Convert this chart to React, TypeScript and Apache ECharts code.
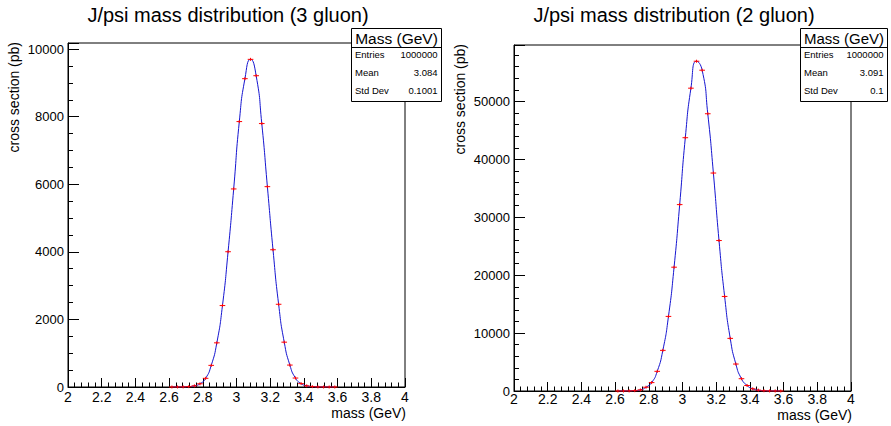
import React, { useEffect, useRef } from "react";
import * as echarts from "echarts";

// ---- data ----
const binCenters = [
  2.6167, 2.65, 2.6833, 2.7167, 2.75, 2.7833, 2.8167, 2.85, 2.8833, 2.9167,
  2.95, 2.9833, 3.0167, 3.05, 3.0833, 3.1167, 3.15, 3.1833, 3.2167, 3.25,
  3.2833, 3.3167, 3.35, 3.3833, 3.4167, 3.45, 3.4833, 3.5167, 3.55, 3.5833,
];
const binWidth = 1 / 30;

const gluon3Values = [
  0.1, 0.8, 3, 11, 34, 95, 257, 640, 1307, 2410,
  4003, 5861, 7855, 9124, 9696, 9212, 7796, 5929, 4062, 2448,
  1327, 649, 265, 100, 35, 11, 3, 0.8, 0.2, 0.05,
];
const gluon2Values = [
  0.7, 3, 14, 55, 190, 650, 1450, 3397, 7017, 12879,
  21379, 32190, 43741, 52293, 56948, 55397, 47879, 37638, 25983, 16328,
  9086, 4655, 2121, 950, 380, 150, 45, 12, 3, 0.6,
];

const titles = ["J/psi mass distribution (3 gluon)", "J/psi mass distribution (2 gluon)"];
const xAxisName = "mass (GeV)";
const yAxisName = "cross section (pb)";
const statsHeader = "Mass (GeV)";
const statLabels = ["Entries", "Mean", "Std Dev"];
const stats3 = ["1000000", "3.084", "0.1001"];
const stats2 = ["1000000", "3.091", "0.1"];

const xMin = 2;
const xMax = 4;
const xStep = 0.2;
const leftYMajor = [0, 2000, 4000, 6000, 8000, 10000];
const leftYMajorStep = 2000;
const leftYMinorStep = 500;
const leftYMax = 10180;
const rightYMajor = [0, 10000, 20000, 30000, 40000, 50000];
const rightYMajorStep = 10000;
const rightYMinorStep = 2000;
const rightYMax = 59750;

const FONT = '"Liberation Sans", Arial, Helvetica, sans-serif';

function pts(vals: number[]) {
  return binCenters.map((c, i) => [c, vals[i]]);
}

function xAxisCfg(gridIndex: number, margin: number) {
  return {
    type: "value",
    gridIndex,
    min: xMin,
    max: xMax,
    interval: xStep,
    axisLine: { show: true, lineStyle: { color: "#000", width: 1 } },
    axisTick: { show: true, inside: true, length: 9, lineStyle: { color: "#000", width: 1 } },
    minorTick: { show: true, splitNumber: 5, length: 4.5, lineStyle: { color: "#000", width: 1 } },
    splitLine: { show: false },
    axisLabel: {
      color: "#000",
      fontSize: 14,
      lineHeight: 12,
      fontFamily: FONT,
      margin,
      formatter: (v: number) => String(parseFloat(v.toFixed(1))),
    },
  };
}

function yAxesCfg(gridIndex: number, max: number, majors: number[], majorStep: number, minorStep: number) {
  return [
    {
      type: "value",
      gridIndex,
      position: "left",
      min: 0,
      max,
      interval: majorStep,
      z: 5,
      axisLine: { show: true, lineStyle: { color: "#000", width: 1 } },
      axisTick: { show: true, inside: true, length: 11, lineStyle: { color: "#000", width: 1 } },
      splitLine: { show: false },
      axisLabel: {
        color: "#000",
        fontSize: 13,
        fontFamily: FONT,
        margin: 4,
        formatter: (v: number) => (majors.includes(Math.round(v)) && Math.abs(v - Math.round(v)) < 1e-6 ? String(Math.round(v)) : ""),
      },
    },
    {
      type: "value",
      gridIndex,
      position: "left",
      offset: 0,
      min: 0,
      max,
      interval: minorStep,
      z: 4,
      axisLine: { show: false },
      axisTick: { show: true, inside: true, length: 5, lineStyle: { color: "#000", width: 1 } },
      splitLine: { show: false },
      axisLabel: { show: false },
    },
  ];
}

function errSeries(xAxisIndex: number, yAxisIndex: number, vals: number[]) {
  return {
    type: "custom",
    xAxisIndex,
    yAxisIndex,
    data: pts(vals),
    encode: { x: 0, y: 1 },
    z: 3,
    renderItem: (_params: any, api: any) => {
      const x = api.value(0);
      const y = api.value(1);
      const c = api.coord([x, y]);
      const l = api.coord([x - binWidth / 2, y]);
      const r = api.coord([x + binWidth / 2, y]);
      return {
        type: "group",
        children: [
          {
            type: "line",
            shape: { x1: l[0], y1: c[1], x2: r[0], y2: c[1] },
            style: { stroke: "#ff0000", lineWidth: 1 },
          },
          {
            type: "line",
            shape: { x1: c[0], y1: c[1] - 1.5, x2: c[0], y2: c[1] + 1.5 },
            style: { stroke: "#ff0000", lineWidth: 1 },
          },
        ],
      };
    },
  };
}

function curveSeries(xAxisIndex: number, yAxisIndex: number, vals: number[]) {
  return {
    type: "line",
    xAxisIndex,
    yAxisIndex,
    data: pts(vals),
    smooth: 0.6,
    showSymbol: false,
    symbol: "none",
    z: 2,
    lineStyle: { color: "#1515d0", width: 1 },
  };
}

function statsBox(x: number, y: number, w: number, h: number, headerSize: number, values: string[]) {
  const rowsY = [54, 72.5, 90.5];
  const els: any[] = [
    {
      type: "rect",
      z: 100,
      shape: { x: x + 0.5, y: y + 0.5, width: w, height: h },
      style: { fill: "#fff", stroke: "#000", lineWidth: 1 },
    },
    {
      type: "line",
      z: 101,
      shape: { x1: x + 0.5, y1: 47.5, x2: x + w + 0.5, y2: 47.5 },
      style: { stroke: "#000", lineWidth: 1 },
    },
    {
      type: "text",
      z: 102,
      x: x + w / 2 + 0.5,
      y: 38,
      style: {
        text: statsHeader,
        fontSize: headerSize,
        fontFamily: FONT,
        fill: "#000",
        align: "center",
        verticalAlign: "middle",
      },
    },
  ];
  statLabels.forEach((lab, i) => {
    els.push({
      type: "text",
      z: 102,
      x: x + 4,
      y: rowsY[i],
      style: { text: lab, fontSize: 9.5, fontFamily: FONT, fill: "#000", align: "left", verticalAlign: "middle" },
    });
    els.push({
      type: "text",
      z: 102,
      x: x + w - 3.5,
      y: rowsY[i],
      style: { text: values[i], fontSize: 9.5, fontFamily: FONT, fill: "#000", align: "right", verticalAlign: "middle" },
    });
  });
  return els;
}

function textEl(text: string, x: number, y: number, size: number, align: string, rotation = 0, lineHeight?: number) {
  const style: any = { text, fontSize: size, fontFamily: FONT, fill: "#000", align, verticalAlign: "middle" };
  if (lineHeight) style.lineHeight = lineHeight;
  return {
    type: "text",
    z: 50,
    x,
    y,
    rotation,
    style,
  };
}

export default function App() {
  const ref = useRef<HTMLDivElement>(null);

  useEffect(() => {
    if (!ref.current) return;
    const chart = echarts.init(ref.current, undefined, { renderer: "svg" });
    const option: any = {
      animation: false,
      backgroundColor: "#fff",
      grid: [
        { left: 68, top: 43, width: 337, height: 344, show: true, borderColor: "#000", borderWidth: 1, backgroundColor: "transparent" },
        { left: 514, top: 45, width: 337, height: 346, show: true, borderColor: "#000", borderWidth: 1, backgroundColor: "transparent" },
      ],
      xAxis: [xAxisCfg(0, 4), xAxisCfg(1, 2)],
      yAxis: [
        ...yAxesCfg(0, leftYMax, leftYMajor, leftYMajorStep, leftYMinorStep),
        ...yAxesCfg(1, rightYMax, rightYMajor, rightYMajorStep, rightYMinorStep),
      ],
      series: [
        curveSeries(0, 0, gluon3Values),
        errSeries(0, 0, gluon3Values),
        curveSeries(1, 2, gluon2Values),
        errSeries(1, 2, gluon2Values),
      ],
      graphic: [
        textEl(titles[0], 228, 15, 20, "center"),
        textEl(titles[1], 674, 15, 20, "center"),
        textEl(yAxisName, 13.5, 42, 14, "right", Math.PI / 2),
        textEl(yAxisName, 460, 44, 14, "right", Math.PI / 2),
        textEl(xAxisName, 406, 413, 14, "right", 0, 12),
        textEl(xAxisName, 852, 415, 14, "right", 0, 12),
        ...statsBox(351, 28, 90, 73, 15.5, stats3),
        ...statsBox(800, 28, 87, 73, 15, stats2),
      ],
    };
    chart.setOption(option);
    return () => chart.dispose();
  }, []);

  return (
    <div
      ref={ref}
      style={{ position: "fixed", left: 0, top: 0, width: 891, height: 426, background: "#fff" }}
    />
  );
}
